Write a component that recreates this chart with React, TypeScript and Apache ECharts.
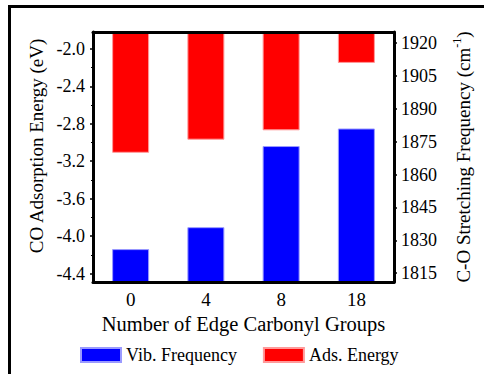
import React, { useEffect, useRef } from "react";
import * as echarts from "echarts";

const categories = ["0", "4", "8", "18"];
const adsEnergy = [-3.11, -2.97, -2.87, -2.15];
const vibFrequency = [1826, 1836, 1873, 1881];
const energyTicks = [-4.4, -4.0, -3.6, -3.2, -2.8, -2.4, -2.0];
const energyMinorTicks = [-4.2, -3.8, -3.4, -3.0, -2.6, -2.2];
const freqTicks = [1815, 1830, 1845, 1860, 1875, 1890, 1905, 1920];
const freqMinorTicks = [1822.5, 1837.5, 1852.5, 1867.5, 1882.5, 1897.5, 1912.5];

const FONT = "Liberation Serif";

export default function App() {
  const ref = useRef<HTMLDivElement>(null);
  useEffect(() => {
    if (!ref.current) return;
    const chart = echarts.init(ref.current, null, { renderer: "svg" });
    const eMin = -4.49, eMax = -1.82, fMin = 1811, fMax = 1925;
    const lineStyle = { color: "#000", width: 3 };
    const txt = (size: number) => ({ fontFamily: FONT, fontSize: size, color: "#000" });
    chart.setOption({
      animation: false,
      backgroundColor: "#fff",
      textStyle: txt(18),
      grid: { left: 93, right: 90, top: 32, bottom: 92, containLabel: false },
      graphic: [
        {
          type: "rect",
          shape: { x: 9.5, y: 6.5, width: 520, height: 420 },
          style: { fill: "none", stroke: "#000", lineWidth: 3 },
          silent: true,
        },
      ],
      legend: {
        data: ["Vib. Frequency", "Ads. Energy"],
        left: 80,
        top: 346,
        padding: 0,
        icon: "rect",
        itemWidth: 40,
        itemHeight: 14,
        itemGap: 26,
        textStyle: txt(18),
      },
      xAxis: [
        {
          type: "category",
          data: categories,
          position: "bottom",
          axisLine: { show: true, lineStyle },
          axisTick: { show: false },
          axisLabel: { ...txt(19), margin: 8 },
          name: "Number of Edge Carbonyl Groups",
          nameLocation: "middle",
          nameGap: 31,
          nameMoveOverlap: false,
          nameTextStyle: txt(20.5),
          z: 5,
        },
        {
          type: "category",
          data: categories,
          position: "top",
          axisLine: { show: true, lineStyle },
          axisTick: { show: false },
          axisLabel: { show: false },
          z: 5,
        },
      ],
      yAxis: [
        {
          type: "value",
          position: "left",
          min: eMin,
          max: eMax,
          axisLine: { show: true, lineStyle },
          axisTick: { show: true, length: 3, customValues: energyTicks, lineStyle: { color: "#000", width: 1.5 } },
          axisLabel: {
            customValues: energyTicks,
            formatter: (v: number) => v.toFixed(1),
            ...txt(18),
            margin: 8,
          },
          splitLine: { show: false },
          name: "CO Adsorption Energy (eV)",
          nameLocation: "middle",
          nameRotate: 90,
          nameGap: 44,
          nameTextStyle: { ...txt(19), padding: [0, 0, 0, 22] },
          z: 5,
        },
        {
          type: "value",
          position: "right",
          min: fMin,
          max: fMax,
          axisLine: { show: true, lineStyle },
          axisTick: { show: true, length: 3, customValues: freqTicks, lineStyle: { color: "#000", width: 1.5 } },
          axisLabel: {
            customValues: freqTicks,
            formatter: (v: number) => String(v),
            ...txt(18),
            margin: 7,
          },
          splitLine: { show: false },
          name: "{a|C-O Stretching Frequency (cm}{s|-1}{a|)}",
          nameLocation: "middle",
          nameRotate: 90,
          nameGap: 57,
          nameTextStyle: {
            ...txt(19),
            rich: {
              a: { ...txt(19), lineHeight: 22, verticalAlign: "bottom" },
              s: { ...txt(12), lineHeight: 12, verticalAlign: "top" },
            },
          },
          z: 5,
        },
        {
          type: "value",
          position: "left",
          min: eMin,
          max: eMax,
          axisLine: { show: false },
          axisTick: { show: true, length: 2, customValues: energyMinorTicks, lineStyle: { color: "#000", width: 1 } },
          axisLabel: { show: false },
          splitLine: { show: false },
          z: 5,
        },
        {
          type: "value",
          position: "right",
          min: fMin,
          max: fMax,
          axisLine: { show: false },
          axisTick: { show: true, length: 2, customValues: freqMinorTicks, lineStyle: { color: "#000", width: 1 } },
          axisLabel: { show: false },
          splitLine: { show: false },
          z: 5,
        },
      ],
      series: [
        {
          name: "Vib. Frequency",
          type: "bar",
          yAxisIndex: 1,
          data: vibFrequency,
          barWidth: 37,
          barGap: "-100%",
          itemStyle: { color: "#0000ff", borderColor: "#9a9aff", borderWidth: 1 },
          clip: true,
        },
        {
          name: "Ads. Energy",
          type: "bar",
          yAxisIndex: 0,
          data: adsEnergy,
          barWidth: 37,
          barGap: "-100%",
          itemStyle: { color: "#ff0000", borderColor: "#ff9a9a", borderWidth: 1 },
          clip: true,
        },
      ],
    });
    return () => chart.dispose();
  }, []);
  return (
    <div
      ref={ref}
      style={{ position: "fixed", left: 0, top: 0, width: 484, height: 374, background: "#fff" }}
    />
  );
}
